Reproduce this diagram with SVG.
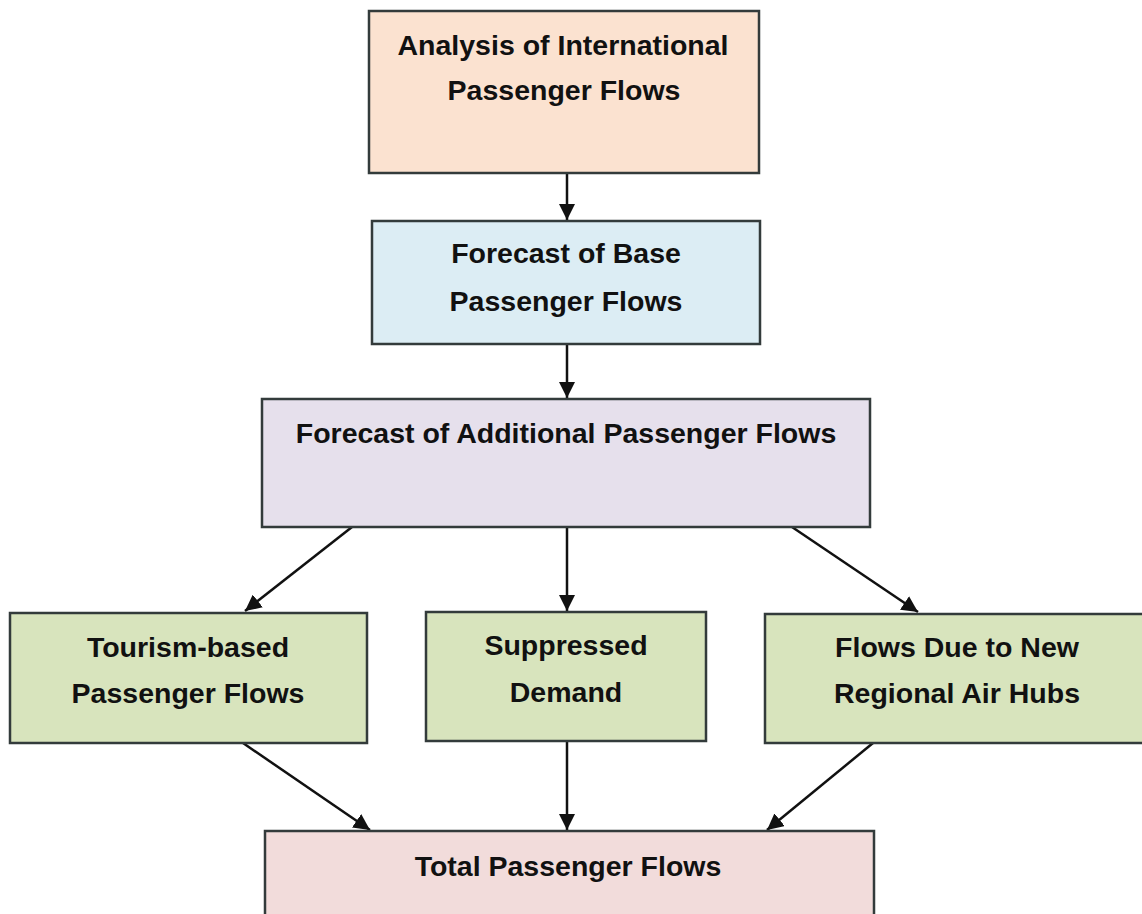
<svg xmlns="http://www.w3.org/2000/svg" width="1142" height="914" viewBox="0 0 1142 914">
<style>
.box{stroke:#333b3b;stroke-width:2.5}
.t{font-family:"Liberation Sans",Arial,sans-serif;font-weight:bold;font-size:28.5px;fill:#111;text-anchor:middle}
.c{stroke:#111;stroke-width:2.5;fill:none;marker-end:url(#ah)}
</style>
<defs>
<marker id="ah" viewBox="0 0 10 10" refX="10" refY="5" markerWidth="6.5" markerHeight="6.5" markerUnits="strokeWidth" orient="auto">
<path d="M0,0 L10,5 L0,10 Z" fill="#111"/>
</marker>
</defs>
<rect width="1142" height="914" fill="#ffffff"/>
<g id="connectors">
<line class="c" x1="567" y1="173" x2="567" y2="220"/>
<line class="c" x1="567" y1="344" x2="567" y2="398"/>
<line class="c" x1="352" y1="527" x2="245" y2="611"/>
<line class="c" x1="567" y1="527" x2="567" y2="611"/>
<line class="c" x1="792" y1="527" x2="918" y2="612"/>
<line class="c" x1="243" y1="743" x2="370" y2="830"/>
<line class="c" x1="567" y1="741" x2="567" y2="830"/>
<line class="c" x1="873" y1="743" x2="767" y2="830"/>
</g>
<g id="n1">
<rect class="box" x="369" y="11" width="390" height="162" fill="#fbe2d0"/>
<text class="t" x="563" y="55">Analysis of International</text>
<text class="t" x="564" y="100">Passenger Flows</text>
</g>
<g id="n2">
<rect class="box" x="372" y="221" width="388" height="123" fill="#dcedf4"/>
<text class="t" x="566" y="263">Forecast of Base</text>
<text class="t" x="566" y="311">Passenger Flows</text>
</g>
<g id="n3">
<rect class="box" x="262" y="399" width="608" height="128" fill="#e6e0ec"/>
<text class="t" x="566" y="443">Forecast of Additional Passenger Flows</text>
</g>
<g id="n4">
<rect class="box" x="10" y="613" width="357" height="130" fill="#d8e4bd"/>
<text class="t" x="188" y="657">Tourism-based</text>
<text class="t" x="188" y="703">Passenger Flows</text>
</g>
<g id="n5">
<rect class="box" x="426" y="612" width="280" height="129" fill="#d8e4bd"/>
<text class="t" x="566" y="655">Suppressed</text>
<text class="t" x="566" y="702">Demand</text>
</g>
<g id="n6">
<rect class="box" x="765" y="614" width="390" height="129" fill="#d8e4bd"/>
<text class="t" x="957" y="657">Flows Due to New</text>
<text class="t" x="957" y="703">Regional Air Hubs</text>
</g>
<g id="n7">
<rect class="box" x="265" y="831" width="609" height="100" fill="#f2dcdb"/>
<text class="t" x="568" y="876">Total Passenger Flows</text>
</g>
</svg>
